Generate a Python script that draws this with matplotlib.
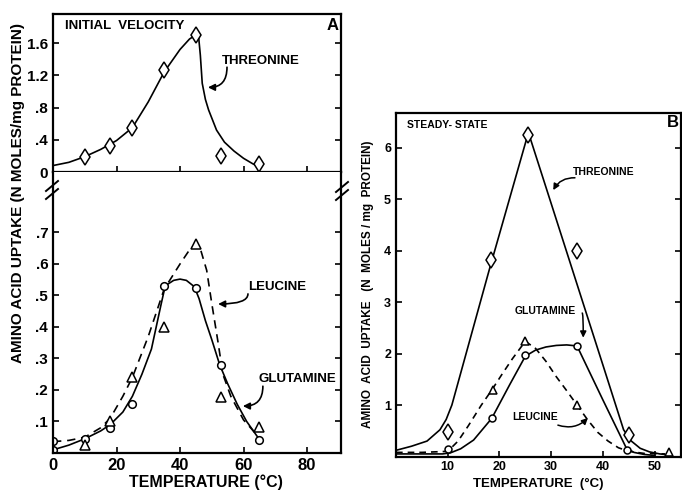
import matplotlib
matplotlib.use("Agg")
import matplotlib.pyplot as plt
from matplotlib.lines import Line2D

plt.rcParams['font.family'] = ['Liberation Sans', 'DejaVu Sans']
plt.rcParams['font.weight'] = 'bold'

# ---------------- Panel A (initial velocity) ----------------
# Threonine (upper part)
thrA_x = [10, 18, 25, 35, 45, 53, 65]
thrA_y = [0.19, 0.32, 0.55, 1.27, 1.70, 0.20, 0.10]
thrA_cx = [0, 5, 10, 15, 20, 25, 30, 35, 40, 43, 45, 45.9, 46.4, 47, 48, 49, 51.5, 54, 57, 60, 63, 65]
thrA_cy = [0.08, 0.12, 0.19, 0.28, 0.39, 0.55, 0.87, 1.24, 1.52, 1.65, 1.70, 1.66, 1.45, 1.10, 0.90, 0.77, 0.52, 0.37, 0.26, 0.17, 0.10, 0.065]

# Glutamine (solid, circles) lower part
glnA_x = [0, 0, 10, 18, 25, 35, 45, 53, 65]
glnA_y = [0.01, 0.037, 0.043, 0.08, 0.155, 0.53, 0.525, 0.28, 0.04]
glnA_cx = [0, 5, 10, 15, 18, 22, 25, 28, 31, 34, 35, 36, 38, 40, 42, 44.5, 46, 48, 50, 52.5, 55, 58, 61, 64.5]
glnA_cy = [0.01, 0.025, 0.045, 0.07, 0.09, 0.13, 0.18, 0.25, 0.33, 0.47, 0.515, 0.535, 0.548, 0.552, 0.548, 0.528, 0.49, 0.42, 0.36, 0.28, 0.22, 0.155, 0.10, 0.05]

# Leucine (dashed, triangles) lower part
leuA_x = [10, 18, 25, 35, 45, 53, 65]
leuA_y = [0.025, 0.10, 0.24, 0.40, 0.663, 0.179, 0.082]
leuA_cx = [0, 5, 10, 15, 18, 22, 25, 30, 35, 40, 43, 45, 46.5, 48.4, 50, 52, 53.5, 56, 60, 64]
leuA_cy = [0.036, 0.04, 0.05, 0.08, 0.11, 0.18, 0.24, 0.37, 0.52, 0.60, 0.645, 0.665, 0.645, 0.58, 0.475, 0.35, 0.25, 0.18, 0.105, 0.06]

# ---------------- Panel B (steady state) ----------------
thrB_x = [10, 18.3, 25.6, 35, 45]
thrB_y = [0.48, 3.82, 6.25, 4.0, 0.42]
thrB_cx = [0, 3, 6, 8.5, 9.7, 10.8, 18, 25.6, 30, 35, 40, 44, 45.5, 47.2, 49, 51, 53]
thrB_cy = [0.12, 0.2, 0.3, 0.52, 0.72, 1.0, 3.62, 6.3, 4.92, 3.35, 1.78, 0.52, 0.3, 0.16, 0.09, 0.05, 0.03]

glnB_x = [10, 18.5, 25, 35, 44.6]
glnB_y = [0.15, 0.75, 1.98, 2.15, 0.12]
glnB_cx = [0, 5, 9, 10.5, 12.5, 15, 18.5, 22, 25, 27, 29, 31, 33, 35, 40, 44.5, 46, 48, 50]
glnB_cy = [0.05, 0.05, 0.05, 0.07, 0.15, 0.32, 0.74, 1.4, 1.95, 2.07, 2.13, 2.16, 2.17, 2.15, 1.1, 0.17, 0.08, 0.04, 0.02]

leuB_x = [18.8, 25, 35, 52.7]
leuB_y = [1.3, 2.24, 1.0, 0.09]
leuB_cx = [0, 5, 10, 12, 14, 16.5, 18.5, 20.5, 22.5, 25, 27, 29, 31, 33, 35, 37, 39, 41, 43, 45, 48, 52]
leuB_cy = [0.08, 0.08, 0.1, 0.3, 0.6, 1.0, 1.29, 1.6, 1.9, 2.24, 2.1, 1.85, 1.55, 1.28, 1.0, 0.72, 0.47, 0.3, 0.17, 0.1, 0.06, 0.05]

# tick labels
A_up_ticks = [0, 0.4, 0.8, 1.2, 1.6]
A_up_labels = ['0', '.4', '.8', '1.2', '1.6']
A_lo_ticks = [0.1, 0.2, 0.3, 0.4, 0.5, 0.6, 0.7]
A_lo_labels = ['.1', '.2', '.3', '.4', '.5', '.6', '.7']
A_x_ticks = [0, 20, 40, 60, 80]
B_x_ticks = [10, 20, 30, 40, 50]
B_y_ticks = [1, 2, 3, 4, 5, 6]

W, H = 682, 491
fig = plt.figure(figsize=(W / 100, H / 100), dpi=100)


def fx(px):
    return px / W


def fy(py):
    return 1 - py / H


SPW = 1.6
LW = 1.2
MEC = 'black'

axU = fig.add_axes([fx(53), fy(172), fx(341) - fx(53), fy(14) - fy(172)])
axL = fig.add_axes([fx(53), fy(453), fx(341) - fx(53), fy(172) - fy(453)])
axB = fig.add_axes([fx(396), fy(456.5), fx(681) - fx(396), fy(113) - fy(456.5)])

for ax in (axU, axL, axB):
    for s in ax.spines.values():
        s.set_linewidth(SPW)
    ax.tick_params(direction='in', length=4, width=1.2, right=True)

axL.spines['top'].set_visible(False)

# ---- upper A
axU.plot(thrA_cx, thrA_cy, color='black', lw=LW)
axU.plot(thrA_x, thrA_y, linestyle='none', marker='d', ms=8, mfc='white', mec=MEC, mew=1.1)
axU.set_xlim(0, 90.7)
axU.set_ylim(0, 1.96)
axU.set_yticks(A_up_ticks)
axU.set_yticklabels(A_up_labels, fontsize=11)
axU.set_xticks(A_x_ticks)
axU.tick_params(axis='x', labelbottom=False)
axU.text(3.8, 1.81, 'INITIAL  VELOCITY', fontsize=9.5, fontweight='bold', va='center', ha='left')
axU.text(89.8, 1.82, 'A', fontsize=12, fontweight='bold', va='center', ha='right')
axU.text(53.2, 1.377, 'THREONINE', fontsize=9.5, fontweight='bold', va='center', ha='left')
axU.annotate('', xy=(48.8, 1.05), xytext=(54.8, 1.30),
             arrowprops=dict(arrowstyle='-|>', color='black', lw=1.2, mutation_scale=10,
                             connectionstyle='angle3,angleA=-90,angleB=0', shrinkA=0, shrinkB=0))

# ---- lower A
axL.plot(glnA_cx, glnA_cy, color='black', lw=LW)
axL.plot(leuA_cx, leuA_cy, color='black', lw=LW, dashes=(5, 3.5))
axL.plot(glnA_x, glnA_y, linestyle='none', marker='o', ms=5.5, mfc='white', mec=MEC, mew=1.1)
axL.plot(leuA_x, leuA_y, linestyle='none', marker='^', ms=6.5, mfc='white', mec=MEC, mew=1.1)
axL.set_xlim(0, 90.7)
axL.set_ylim(0, 0.892)
axL.set_yticks(A_lo_ticks)
axL.set_yticklabels(A_lo_labels, fontsize=11)
axL.set_xticks(A_x_ticks)
axL.set_xticklabels([str(t) for t in A_x_ticks], fontsize=12)
axL.set_xlabel('TEMPERATURE (°C)', fontsize=11.5, fontweight='bold', labelpad=2)
axL.xaxis.set_label_coords(0.53, -0.075)
axL.text(61.4, 0.527, 'LEUCINE', fontsize=9.5, fontweight='bold', va='center', ha='left')
axL.annotate('', xy=(52.0, 0.473), xytext=(61.4, 0.505),
             arrowprops=dict(arrowstyle='-|>', color='black', lw=1.2, mutation_scale=10,
                             connectionstyle='angle3,angleA=-90,angleB=0', shrinkA=0, shrinkB=0))
axL.text(64.6, 0.235, 'GLUTAMINE', fontsize=9.5, fontweight='bold', va='center', ha='left')
axL.annotate('', xy=(59.8, 0.149), xytext=(66.1, 0.212),
             arrowprops=dict(arrowstyle='-|>', color='black', lw=1.2, mutation_scale=10,
                             connectionstyle='angle3,angleA=-90,angleB=0', shrinkA=0, shrinkB=0))

fig.text(fx(18), fy(193), 'AMINO ACID UPTAKE (N MOLES/mg PROTEIN)', rotation=90,
         fontsize=11, fontweight='bold', ha='center', va='center')

# break marks
for (bx, by) in [(52, 190), (342, 191)]:
    for off in (-4, 4):
        fig.add_artist(Line2D([fx(bx - 6), fx(bx + 6)], [fy(by + off + 5), fy(by + off - 5)],
                              color='black', lw=1.4))

# ---- panel B
axB.plot(thrB_cx, thrB_cy, color='black', lw=LW)
axB.plot(glnB_cx, glnB_cy, color='black', lw=LW)
axB.plot(leuB_cx, leuB_cy, color='black', lw=LW, dashes=(4, 3))
axB.plot(thrB_x, thrB_y, linestyle='none', marker='d', ms=8, mfc='white', mec=MEC, mew=1.1)
axB.plot(glnB_x, glnB_y, linestyle='none', marker='o', ms=5, mfc='white', mec=MEC, mew=1.1)
axB.plot(leuB_x, leuB_y, linestyle='none', marker='^', ms=5.5, mfc='white', mec=MEC, mew=1.1)
axB.set_xlim(0, 55.1)
axB.set_ylim(0, 6.68)
axB.set_xticks(B_x_ticks)
axB.set_xticklabels([str(t) for t in B_x_ticks], fontsize=9)
axB.set_yticks(B_y_ticks)
axB.set_yticklabels([str(t) for t in B_y_ticks], fontsize=9)
axB.set_xlabel('TEMPERATURE  (°C)', fontsize=9.5, fontweight='bold', labelpad=3)
axB.set_ylabel('AMINO  ACID  UPTAKE   (N  MOLES / mg  PROTEIN)', fontsize=8.5, fontweight='bold', labelpad=7)
axB.text(2.1, 6.45, 'STEADY- STATE', fontsize=7.5, fontweight='bold', va='center', ha='left')
axB.text(54.6, 6.49, 'B', fontsize=12, fontweight='bold', va='center', ha='right')
axB.text(34.2, 5.53, 'THREONINE', fontsize=7.5, fontweight='bold', va='center', ha='left')
axB.annotate('', xy=(30.4, 5.18), xytext=(34.6, 5.42),
             arrowprops=dict(arrowstyle='-|>', color='black', lw=1.1, mutation_scale=9,
                             connectionstyle='arc3,rad=0.3', shrinkA=0, shrinkB=0))
axB.text(23.0, 2.83, 'GLUTAMINE', fontsize=7.5, fontweight='bold', va='center', ha='left')
axB.annotate('', xy=(36.2, 2.31), xytext=(36.0, 2.79),
             arrowprops=dict(arrowstyle='-|>', color='black', lw=1.1, mutation_scale=9,
                             connectionstyle='angle3,angleA=0,angleB=90', shrinkA=0, shrinkB=0))
axB.text(22.4, 0.77, 'LEUCINE', fontsize=7.5, fontweight='bold', va='center', ha='left')
axB.annotate('', xy=(37.1, 0.75), xytext=(31.3, 0.61),
             arrowprops=dict(arrowstyle='-|>', color='black', lw=1.1, mutation_scale=9,
                             connectionstyle='arc3,rad=0.3', shrinkA=0, shrinkB=0))

fig.savefig('out.png', dpi=100)
